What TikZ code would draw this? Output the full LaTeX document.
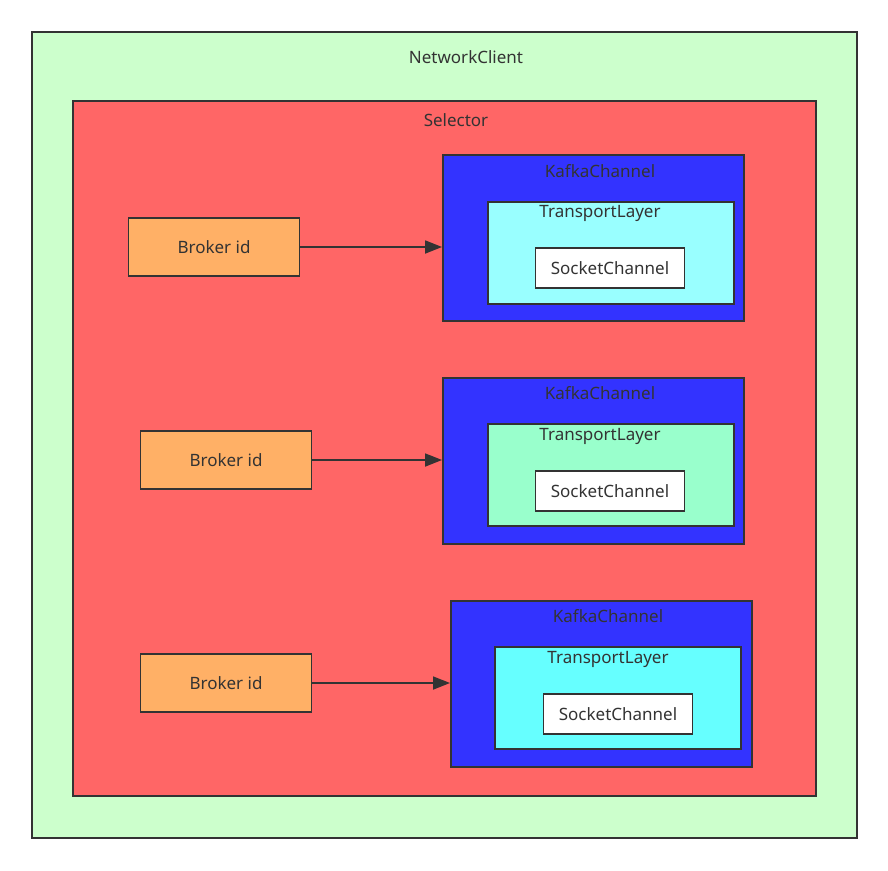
\documentclass[tikz,border=0pt]{standalone}
\usepackage{fontspec}
\setmainfont{Noto Sans}
\usepackage{tikz}
\usetikzlibrary{arrows.meta,positioning}
\definecolor{clientgreen}{HTML}{CCFFCC}
\definecolor{selred}{HTML}{FF6666}
\definecolor{kafkablue}{HTML}{3333FF}
\definecolor{brokerorange}{HTML}{FFB066}
\definecolor{layercyan}{HTML}{99FFFF}
\definecolor{layermint}{HTML}{99FFCC}
\definecolor{layeraqua}{HTML}{66FFFF}
\definecolor{edgegray}{HTML}{333333}

\begin{document}
\begin{tikzpicture}[
  x=1pt,y=-1pt,
  font=\fontsize{17}{20}\selectfont,
  box/.style={draw=edgegray,line width=1.8pt,rectangle,inner sep=0pt,anchor=north west,text=edgegray},
  title/.style={text=edgegray,inner sep=1pt},
  client/.style={box,fill=clientgreen,minimum width=825,minimum height=806},
  selector/.style={box,fill=selred,minimum width=743,minimum height=695},
  kafka/.style={box,fill=kafkablue,minimum width=301,minimum height=166},
  transport/.style={box,minimum width=246,minimum height=102},
  socket/.style={box,fill=white,minimum width=149,minimum height=40,anchor=center},
  broker/.style={box,fill=brokerorange,minimum width=171,minimum height=58,anchor=center},
  arr/.style={-{Triangle[length=17pt,width=13pt]},draw=edgegray,line width=1.8pt}
]
\useasboundingbox (0,0) rectangle (888,870);
\node[client] (net) at (31,31) {};
\node[title] (netlab) at (466,57) {NetworkClient};
\node[selector] (sel) at (72,100) {};
\node[title] (sellab) at (456,120) {Selector};

% first channel
\node[kafka] (kc1) at (442,154) {};
\node[title] (kc1lab) at (600,171) {KafkaChannel};
\node[transport,fill=layercyan] (tl1) at (487,201) {};
\node[title] (tl1lab) at (600,213) {TransportLayer};
\node[socket] (sc1) at (610,268) {SocketChannel};
\node[broker] (br1) at (214,247) {Broker id};

% second channel
\node[kafka] (kc2) at (442,377) {};
\node[title] (kc2lab) at (600,393) {KafkaChannel};
\node[transport,fill=layermint] (tl2) at (487,423) {};
\node[title] (tl2lab) at (600,436) {TransportLayer};
\node[socket] (sc2) at (610,491) {SocketChannel};
\node[broker] (br2) at (226,460) {Broker id};

% third channel
\node[kafka] (kc3) at (450,600) {};
\node[title] (kc3lab) at (608,616) {KafkaChannel};
\node[transport,fill=layeraqua] (tl3) at (494,646) {};
\node[title] (tl3lab) at (608,659) {TransportLayer};
\node[socket] (sc3) at (618,714) {SocketChannel};
\node[broker] (br3) at (226,683) {Broker id};

\draw[arr] (br1.east) -- (br1.east -| kc1.west);
\draw[arr] (br2.east) -- (br2.east -| kc2.west);
\draw[arr] (br3.east) -- (br3.east -| kc3.west);
\end{tikzpicture}
\end{document}
